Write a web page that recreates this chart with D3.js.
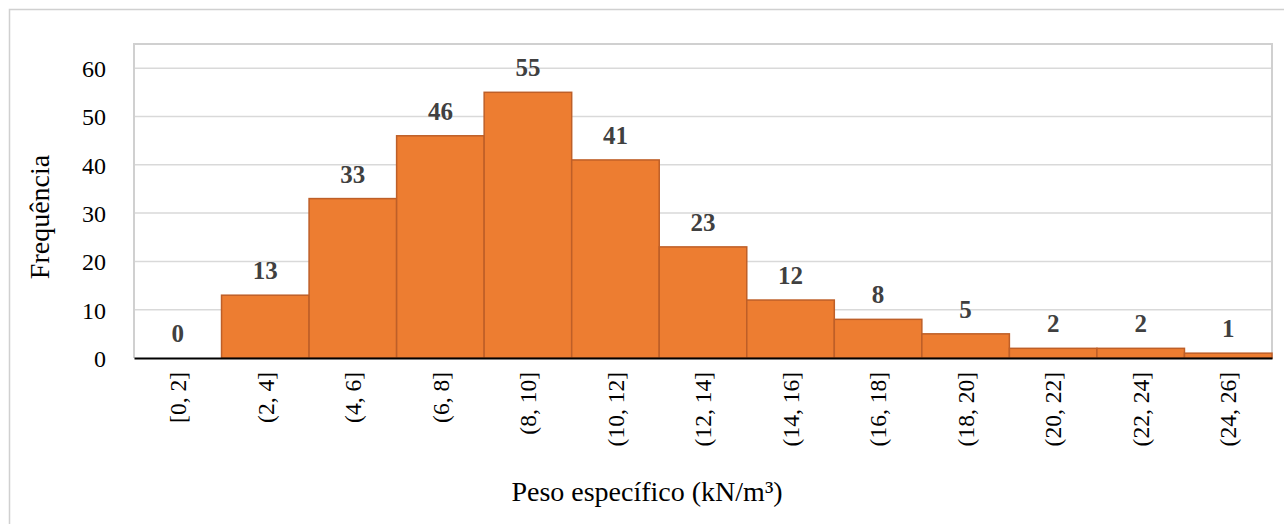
<!DOCTYPE html>
<html lang="pt">
<head>
<meta charset="UTF-8">
<title>Histograma - Peso específico</title>
<script src="https://d3js.org/d3.v7.min.js"></script>
<style>
    body { margin: 0; background: #fff; }
    svg { display: block; }
</style>
</head>
<body>
<svg id="chart"></svg>
<script>
    // dados do histograma
    const categories = ["[0, 2]", "(2, 4]", "(4, 6]", "(6, 8]", "(8, 10]", "(10, 12]", "(12, 14]",
        "(14, 16]", "(16, 18]", "(18, 20]", "(20, 22]", "(22, 24]", "(24, 26]"];
    const frequencies = [0, 13, 33, 46, 55, 41, 23, 12, 8, 5, 2, 2, 1];
    const yTicks = [0, 10, 20, 30, 40, 50, 60];

    const width = 1284, height = 524;
    const margin = { left: 134, right: 12, top: 44, bottom: 166 };
    const plotW = width - margin.left - margin.right;
    const plotH = height - margin.top - margin.bottom;
    const serif = "Liberation Serif";

    const svg = d3.select("#chart").attr("width", width).attr("height", height);

    // moldura externa
    svg.append("rect")
        .attr("x", 9.5).attr("y", 9.5)
        .attr("width", width).attr("height", height)
        .attr("fill", "none").attr("stroke", "#D0D0D0").attr("stroke-width", 1.5);

    const g = svg.append("g").attr("transform", `translate(${margin.left},${margin.top})`);

    const x = d3.scaleBand().domain(categories).range([0, plotW]).padding(0);
    const y = d3.scaleLinear().domain([0, 65]).range([plotH, 0]);

    // grade
    g.append("g")
        .selectAll("line")
        .data(yTicks.filter(d => d > 0))
        .join("line")
        .attr("x1", 0).attr("x2", plotW)
        .attr("y1", d => y(d)).attr("y2", d => y(d))
        .attr("stroke", "#D9D9D9").attr("stroke-width", 1.5);

    // borda da área do gráfico
    g.append("path")
        .attr("d", `M0,${plotH}V0H${plotW}V${plotH}`)
        .attr("fill", "none").attr("stroke", "#D0D0D0").attr("stroke-width", 2);

    // barras
    g.append("g")
        .selectAll("rect")
        .data(frequencies)
        .join("rect")
        .attr("x", (d, i) => x(categories[i]))
        .attr("y", d => y(d))
        .attr("width", x.bandwidth())
        .attr("height", d => plotH - y(d))
        .attr("fill", "#ED7D31")
        .attr("stroke", d => d > 0 ? "#BE5F28" : "none")
        .attr("stroke-width", 1.5);

    // rótulos
    g.append("g")
        .selectAll("text")
        .data(frequencies)
        .join("text")
        .attr("font-family", serif)
        .attr("font-size", 25)
        .attr("font-weight", "bold")
        .attr("fill", "#404040")
        .attr("text-anchor", "middle")
        .attr("x", (d, i) => x(categories[i]) + x.bandwidth() / 2)
        .attr("y", d => y(d) - 16)
        .text(d => d);

    // eixo y
    const yAxis = g.append("g")
        .call(d3.axisLeft(y).tickValues(yTicks).tickSize(0).tickPadding(28));
    yAxis.attr("font-family", serif).attr("font-size", 24);
    yAxis.select(".domain").remove();
    yAxis.selectAll(".tick text").attr("fill", "#000").attr("dy", "0.35em");

    // eixo x
    const xAxis = g.append("g")
        .attr("transform", `translate(0,${plotH})`)
        .call(d3.axisBottom(x).tickSize(0));
    xAxis.attr("font-family", serif).attr("font-size", 23.5);
    xAxis.select(".domain").attr("stroke", "#000").attr("stroke-width", 2);
    xAxis.selectAll(".tick text")
        .attr("fill", "#000")
        .attr("transform", "rotate(-90)")
        .attr("text-anchor", "end")
        .attr("x", -14)
        .attr("y", 0)
        .attr("dy", "0.35em");

    // títulos dos eixos
    svg.append("text")
        .attr("transform", "translate(49,217) rotate(-90)")
        .attr("text-anchor", "middle")
        .attr("font-family", serif)
        .attr("font-size", 28)
        .text("Frequência");

    svg.append("text")
        .attr("x", 647)
        .attr("y", 501)
        .attr("text-anchor", "middle")
        .attr("font-family", serif)
        .attr("font-size", 28)
        .text("Peso específico (kN/m³)");
</script>
</body>
</html>
